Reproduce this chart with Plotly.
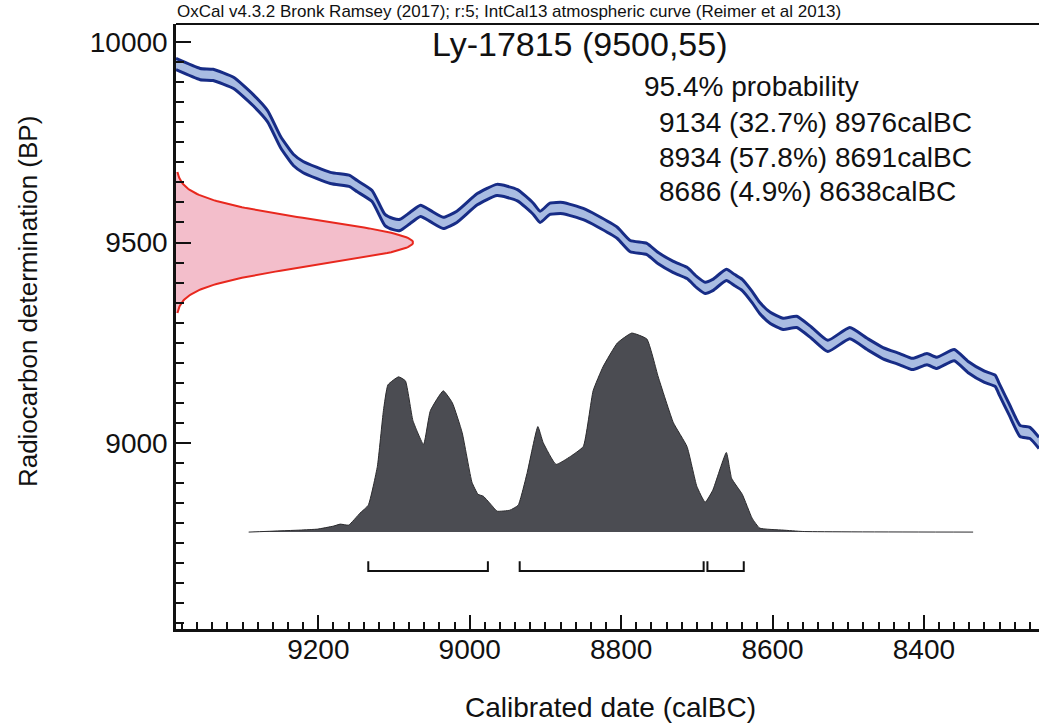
import math
import plotly.graph_objects as go

# ---- IntCal13 atmospheric curve: calendar year (BC) and radiocarbon age (BP)
curve_year = [9388, 9356, 9339, 9312, 9286, 9267, 9250, 9233, 9220, 9184,
              9158, 9149, 9129, 9112, 9101, 9092, 9079, 9065, 9052, 9035,
              9017, 8990, 8964, 8937, 8916, 8907, 8894, 8877, 8850, 8832,
              8805, 8788, 8766, 8751, 8731, 8713, 8700, 8689, 8679, 8661,
              8650, 8640, 8627, 8617, 8603, 8586, 8568, 8548, 8527, 8498,
              8475, 8454, 8432, 8415, 8396, 8383, 8360, 8342, 8320, 8306,
              8300, 8287, 8273, 8260, 8248]
curve_bp = [9945, 9920, 9918, 9898, 9855, 9815, 9751, 9706, 9688, 9661,
            9653, 9641, 9616, 9556, 9546, 9544, 9561, 9579, 9566, 9549,
            9564, 9608, 9631, 9618, 9584, 9564, 9584, 9586, 9571, 9554,
            9524, 9491, 9484, 9461, 9439, 9424, 9401, 9387, 9394, 9419,
            9406, 9394, 9364, 9337, 9312, 9297, 9302, 9274, 9242, 9274,
            9247, 9224, 9209, 9197, 9209, 9200, 9219, 9190, 9165, 9155,
            9132, 9082, 9030, 9025, 9000]
curve_sigma = 14

# ---- Measurement
lab_code = "Ly-17815"
c14_age = 9500
c14_err = 55

# ---- Calibrated date: relative probability
prob_year = [9292, 9224, 9201, 9180, 9171, 9160, 9145, 9134, 9122, 9114,
             9108, 9094, 9085, 9075, 9061, 9052, 9035, 9023, 9010, 8997,
             8989, 8982, 8970, 8964, 8947, 8936, 8924, 8910, 8903, 8886,
             8867, 8850, 8837, 8824, 8805, 8786, 8766, 8751, 8731, 8713,
             8700, 8689, 8679, 8661, 8654, 8640, 8627, 8617, 8586, 8560,
             8335]
prob_value = [0.0, 0.01, 0.015, 0.03, 0.04, 0.035, 0.095, 0.135, 0.33, 0.61,
              0.74, 0.78, 0.76, 0.56, 0.44, 0.61, 0.71, 0.65, 0.50, 0.25,
              0.19, 0.18, 0.13, 0.105, 0.11, 0.135, 0.30, 0.53, 0.45, 0.34,
              0.38, 0.43, 0.71, 0.83, 0.95, 1.0, 0.97, 0.78, 0.55, 0.43,
              0.23, 0.15, 0.21, 0.40, 0.27, 0.19, 0.07, 0.02, 0.01, 0.003,
              0.0]

# ---- 95.4% ranges
range_start = [9134, 8934, 8686]
range_end = [8976, 8691, 8638]
range_pct = [32.7, 57.8, 4.9]

FONT = "Liberation Sans, Arial, sans-serif"
INK = "#111111"
NAVY = "#172c86"
BAND = "#a9bce2"

fig = go.Figure()

# calibration curve band (mean +/- sigma)
lower = [b - curve_sigma for b in curve_bp]
upper = [b + curve_sigma for b in curve_bp]
fig.add_trace(go.Scatter(x=curve_year, y=lower, mode="lines",
                         line=dict(color=NAVY, width=3, shape="spline",
                                   smoothing=0.5),
                         hoverinfo="skip"))
fig.add_trace(go.Scatter(x=curve_year, y=upper, mode="lines", fill="tonexty",
                         fillcolor=BAND,
                         line=dict(color=NAVY, width=3, shape="spline",
                                   smoothing=0.5),
                         hoverinfo="skip"))

# radiocarbon measurement as a normal distribution on the BP axis
n = 161
gy, gx = [], []
for i in range(n):
    bp = c14_age - 3.2 * c14_err + i * (6.4 * c14_err) / (n - 1)
    gy.append(bp)
    gx.append(math.exp(-0.5 * ((bp - c14_age) / c14_err) ** 2))
fig.add_trace(go.Scatter(x=gx, y=gy, xaxis="x2", yaxis="y", mode="lines",
                         fill="tozerox", fillcolor="rgba(240,172,188,0.78)",
                         line=dict(color="#e8281e", width=2), hoverinfo="skip"))

# calibrated probability distribution
fig.add_trace(go.Scatter(x=prob_year, y=prob_value, xaxis="x", yaxis="y2",
                         mode="lines", fill="tozeroy", fillcolor="#4b4c52",
                         line=dict(color="#2b2b2e", width=1, shape="spline",
                                   smoothing=0.4),
                         hoverinfo="skip"))

# range brackets
bx, by = [], []
for s, e in zip(range_start, range_end):
    bx += [s, s, e, e, None]
    by += [-0.146, -0.196, -0.196, -0.146, None]
fig.add_trace(go.Scatter(x=bx, y=by, xaxis="x", yaxis="y2", mode="lines",
                         line=dict(color=INK, width=2), hoverinfo="skip"))

tick_font = dict(family=FONT, size=28, color=INK)
fig.update_layout(
    width=1039, height=726,
    margin=dict(l=176, r=0, t=24, b=97),
    paper_bgcolor="white", plot_bgcolor="white",
    showlegend=False,
    xaxis=dict(range=[9388, 8248], tickmode="linear", tick0=0, dtick=200,
               tickformat="d",
               ticks="inside", ticklen=14, tickwidth=2, tickcolor=INK,
               minor=dict(dtick=20, ticks="inside", ticklen=7, tickwidth=1.5,
                          tickcolor=INK),
               showline=True, linewidth=2.5, linecolor=INK,
               showgrid=False, zeroline=False, tickfont=tick_font,
               ticklabelstandoff=-6),
    yaxis=dict(range=[8536, 10045], tickmode="linear", tick0=0, dtick=500,
               tickformat="d",
               ticks="inside", ticklen=15, tickwidth=2, tickcolor=INK,
               minor=dict(dtick=50, ticks="inside", ticklen=8, tickwidth=1.5,
                          tickcolor=INK),
               showline=True, linewidth=2.5, linecolor=INK,
               showgrid=False, zeroline=False, tickfont=tick_font,
               ticklabelstandoff=0),
    xaxis2=dict(overlaying="x", range=[0, 3.641], visible=False),
    yaxis2=dict(overlaying="y", range=[-0.487, 2.553], visible=False),
)

# frame line along the top
fig.add_shape(type="line", xref="paper", yref="paper", x0=0, x1=1, y0=1, y1=1,
              line=dict(color=INK, width=2))

ann = []
ann.append(dict(text="OxCal v4.3.2 Bronk Ramsey (2017); r:5; IntCal13 atmospheric curve (Reimer et al 2013)",
                x=-0.001, y=1.001, xanchor="left", yanchor="bottom",
                font=dict(family=FONT, size=17, color=INK)))
ann.append(dict(text=f"{lab_code} ({c14_age},{c14_err})", x=0.468, y=0.967,
                xanchor="center", yanchor="middle",
                font=dict(family=FONT, size=34, color=INK)))
ann.append(dict(text="95.4% probability", x=0.540, y=0.8975,
                xanchor="left", yanchor="middle",
                font=dict(family=FONT, size=28, color=INK)))
for i, (s, e, p) in enumerate(zip(range_start, range_end, range_pct)):
    ann.append(dict(text=f"{s} ({p}%) {e}calBC", x=0.5574,
                    y=0.8364 - i * 0.0567, xanchor="left", yanchor="middle",
                    font=dict(family=FONT, size=28, color=INK)))
ann.append(dict(text="Calibrated date (calBC)", x=0.504, y=-0.129,
                xanchor="center", yanchor="middle",
                font=dict(family=FONT, size=28, color=INK)))
ann.append(dict(text="Radiocarbon determination (BP)", x=-0.1715, y=0.542,
                textangle=-90, xanchor="center", yanchor="middle",
                font=dict(family=FONT, size=26, color=INK)))
for a in ann:
    a.update(xref="paper", yref="paper", showarrow=False)
fig.update_layout(annotations=ann)

fig.write_html("out.html")
